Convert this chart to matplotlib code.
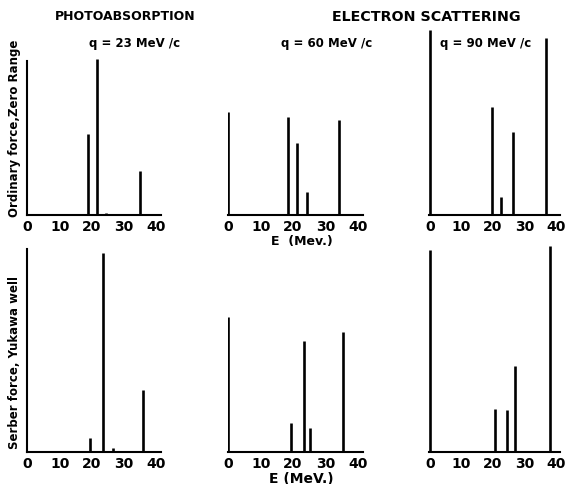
import matplotlib
matplotlib.use("Agg")
import matplotlib.pyplot as plt

# Уровни (E, МэВ) и относительные интенсивности, произвольные единицы (0..100)
# верхний ряд: обычные силы, потенциал нулевого радиуса
photo_E = [18.7, 21.6, 24.3, 35.0]
photo_I = [43.5, 84.0, 1.2, 23.7]
photo_axis_top = 83.0

e60_E = [0.0, 18.5, 21.2, 24.4, 34.3]
e60_I = [55.5, 52.7, 38.7, 12.4, 51.2]

e90_E = [0.0, 19.8, 22.6, 26.3, 36.8]
e90_I = [99.6, 57.9, 9.5, 44.5, 95.0]

# нижний ряд: силы Сербера, яма Юкавы
serb_photo_E = [19.5, 23.6, 26.5, 36.0]
serb_photo_I = [6.8, 96.1, 1.9, 30.0]
serb_photo_axis_top = 98.0

serb_e60_E = [0.0, 19.3, 23.3, 25.3, 35.5]
serb_e60_I = [65.1, 14.0, 53.7, 11.7, 58.0]

serb_e90_E = [0.0, 20.8, 24.5, 26.9, 38.3]
serb_e90_I = [97.7, 20.7, 20.4, 41.6, 99.6]

xticks = [0, 10, 20, 30, 40]
q_labels = ["q = 23 MeV /c", "q = 60 MeV /c", "q = 90 MeV /c"]

W, H = 572, 485
fig = plt.figure(figsize=(W / 100, H / 100), dpi=100)
plt.rcParams['font.family'] = 'DejaVu Sans'


def px_axes(x0, top, width, bottom):
    """Оси по пиксельным координатам (отсчёт y сверху)"""
    return fig.add_axes([x0 / W, 1 - bottom / H, width / W, (bottom - top) / H])


lefts = [26.7, 227.5, 429.3]
widths = [134, 135, 131]
rows = [(30, 216), (246, 453)]

data = [
    [(photo_E, photo_I, photo_axis_top), (e60_E, e60_I, None), (e90_E, e90_I, None)],
    [(serb_photo_E, serb_photo_I, serb_photo_axis_top),
     (serb_e60_E, serb_e60_I, None), (serb_e90_E, serb_e90_I, None)],
]

for r, (top, bottom) in enumerate(rows):
    for c in range(3):
        E, I, axis_top = data[r][c]
        ax = px_axes(lefts[c], top, widths[c], bottom)
        ax.vlines(E, 0, I, colors='black', lw=1.9)
        ax.set_xlim(-0.3, 41.5)
        ax.set_ylim(0, 100)
        for s in ('top', 'right'):
            ax.spines[s].set_visible(False)
        if axis_top is not None:
            ax.spines['left'].set_bounds(0, axis_top)
        else:
            ax.spines['left'].set_visible(False)
        ax.spines['left'].set_linewidth(1.5)
        ax.spines['bottom'].set_linewidth(1.5)
        ax.set_yticks([])
        ax.set_xticks(xticks)
        ax.tick_params(axis='x', length=0, pad=3, labelsize=10)
        for lbl in ax.get_xticklabels():
            lbl.set_fontweight('bold')

# подписи
fig.text(125 / W, 1 - 17 / H, "PHOTOABSORPTION", ha='center', va='center',
         fontsize=9, fontweight='bold')
fig.text(426 / W, 1 - 17 / H, "ELECTRON SCATTERING", ha='center', va='center',
         fontsize=10.3, fontweight='bold')
for x, t in zip([135, 327, 486], q_labels):
    fig.text(x / W, 1 - 43 / H, t, ha='center', va='center', fontsize=8.5,
             fontweight='bold')

fig.text(302 / W, 1 - 242 / H, "E  (Mev.)", ha='center', va='center',
         fontsize=9, fontweight='bold')
fig.text(301 / W, 1 - 479 / H, "E (MeV.)", ha='center', va='center',
         fontsize=10, fontweight='bold')

fig.text(15 / W, 1 - 128 / H, "Ordinary force,Zero Range", rotation=90,
         ha='center', va='center', fontsize=8.5, fontweight='bold')
fig.text(15 / W, 1 - 363 / H, "Serber force, Yukawa well", rotation=90,
         ha='center', va='center', fontsize=8.5, fontweight='bold')

fig.savefig("out.png", dpi=100)
